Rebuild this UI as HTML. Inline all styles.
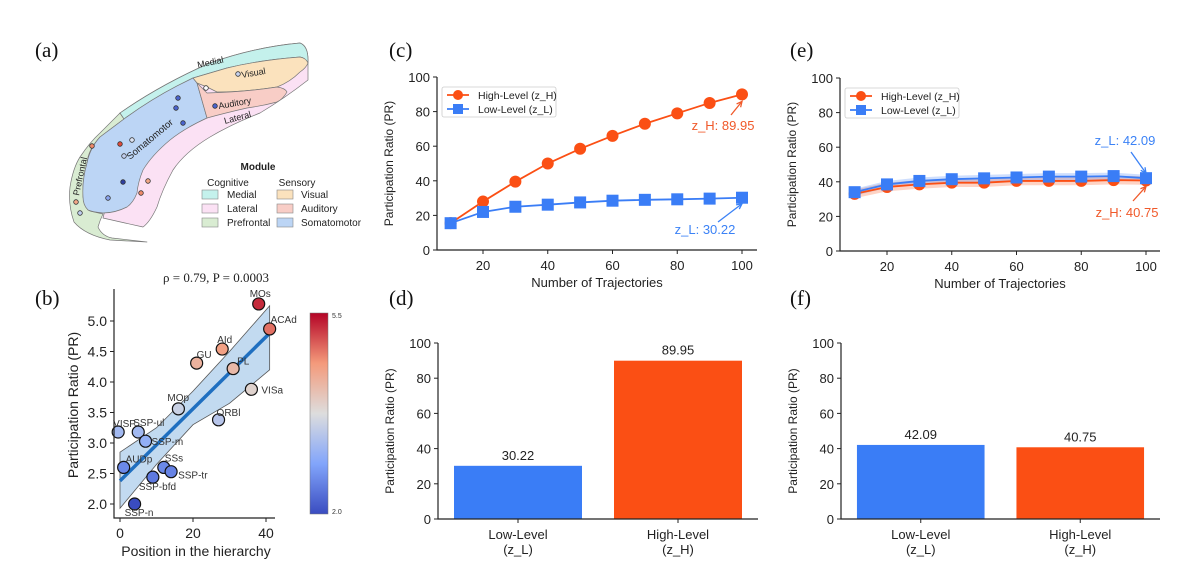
<!DOCTYPE html>
<html><head><meta charset="utf-8"><style>
html,body{margin:0;padding:0;background:#fff;}
svg{display:block;font-family:"Liberation Sans",sans-serif;}
.tk{font-size:13px;fill:#222;}
.pl{font-family:"Liberation Serif",serif;font-size:21px;fill:#111;}
</style></head><body>
<svg id="fig" width="1200" height="578" viewBox="0 0 1200 578">
<text class="pl" x="35" y="57">(a)</text>
<text class="pl" x="35" y="305">(b)</text>
<text class="pl" x="389" y="57">(c)</text>
<text class="pl" x="389" y="305">(d)</text>
<text class="pl" x="790" y="57">(e)</text>
<text class="pl" x="790" y="305">(f)</text>

<!-- Panel a: cortex diagram -->
<g id="pa" stroke="#777" stroke-width="0.7" stroke-linejoin="round">
  <path fill="#fbe1f4" d="M120,113 Q160,85 210,63 Q255,47 300,43 Q308,46 308,60 L308,80 Q285,98 260,113 Q230,125 210,137 Q185,152 173,170 Q162,190 157,207 Q150,222 143,227 L125,223 L103,218 L120,150 Z"/>
  <path fill="#d9ecd2" d="M147,242 L110,240 Q85,235 74,222 Q68,205 70,187 Q73,168 80,157 Q90,142 100,133 L120,113 L124,119 L100,137 Q88,150 87,163 Q82,180 83,197 Q86,208 90,211 L103,214 Q100,220 98,227 Q102,236 112,238 Q130,240 147,242 Z"/>
  <path fill="#c4f1ec" d="M120,113 Q160,85 210,63 Q255,47 300,43 Q308,46 308,60 L308,63 Q305,58 300,57 Q260,60 227,68 L193,78 Q185,82 177,86 Q150,100 124,119 Z"/>
  <path fill="#bcd5f5" d="M124,119 Q150,100 177,86 L193,78 L197,83 L207,118 Q185,128 170,140 Q152,155 143,170 Q138,182 137,193 Q133,203 127,207 Q115,213 103,213 Q92,212 88,210 Q83,205 83,197 Q82,180 87,163 Q90,148 100,137 Z"/>
  <path fill="#fbe2bd" d="M193,78 L227,68 Q260,60 300,57 Q306,58 308,63 Q306,68 300,72 Q290,82 277,87 Q245,92 217,92 L207,87 L197,83 Z"/>
  <path fill="#f8cdc6" d="M197,83 L207,93 Q245,92 277,87 Q285,88 287,92 Q283,99 277,102 Q262,106 247,108 Q225,113 207,118 Z"/>
  <text x="198" y="68" font-size="9" fill="#222" stroke="none" transform="rotate(-12 198 68)">Medial</text>
  <text x="242" y="78" font-size="9" fill="#222" stroke="none" transform="rotate(-10 242 78)">Visual</text>
  <text x="219" y="109" font-size="9" fill="#222" stroke="none" transform="rotate(-10 219 109)">Auditory</text>
  <text x="225" y="124" font-size="9" fill="#222" stroke="none" transform="rotate(-15 225 124)">Lateral</text>
  <text x="130" y="160" font-size="9.5" fill="#222" stroke="none" transform="rotate(-40 130 160)">Somatomotor</text>
  <text x="79" y="196" font-size="9" fill="#222" stroke="none" transform="rotate(-78 79 196)">Prefrontal</text>
  <g stroke="#333" stroke-width="0.8">
    <circle cx="238" cy="74" r="2.3" fill="#c7d3f0"/><circle cx="206" cy="88" r="2.3" fill="#fff"/>
    <circle cx="215" cy="106" r="2.3" fill="#4a64d0"/><circle cx="178" cy="98" r="2.3" fill="#4a64d0"/>
    <circle cx="176" cy="108" r="2.3" fill="#4a64d0"/><circle cx="183" cy="123" r="2.3" fill="#4a64d0"/>
    <circle cx="92" cy="146" r="2.3" fill="#f08a6a"/><circle cx="120" cy="144" r="2.3" fill="#e04a3a"/>
    <circle cx="132" cy="140" r="2.3" fill="#dde4f4"/><circle cx="124" cy="156" r="2.3" fill="#c0cff0"/>
    <circle cx="123" cy="182" r="2.3" fill="#2d3fa0"/><circle cx="108" cy="198" r="2.3" fill="#8aa4f0"/>
    <circle cx="148" cy="181" r="2.3" fill="#f4a888"/><circle cx="141" cy="193" r="2.3" fill="#f08a6a"/>
    <circle cx="76" cy="202" r="2.3" fill="#f4a888"/><circle cx="80" cy="213" r="2.3" fill="#c0cff0"/>
  </g>
</g>
<g id="pa-legend" font-size="10" fill="#222">
  <text x="258" y="170" font-weight="bold" text-anchor="middle">Module</text>
  <text x="228" y="186" text-anchor="middle">Cognitive</text>
  <text x="297" y="186" text-anchor="middle">Sensory</text>
  <rect x="202" y="190" width="16" height="9" fill="#c4f1ec" stroke="#888" stroke-width="0.6"/><text x="227" y="198">Medial</text>
  <rect x="202" y="204" width="16" height="9" fill="#fbe1f4" stroke="#888" stroke-width="0.6"/><text x="227" y="212">Lateral</text>
  <rect x="202" y="218" width="16" height="9" fill="#d9ecd2" stroke="#888" stroke-width="0.6"/><text x="227" y="226">Prefrontal</text>
  <rect x="277" y="190" width="16" height="9" fill="#fbe2bd" stroke="#888" stroke-width="0.6"/><text x="301" y="198">Visual</text>
  <rect x="277" y="204" width="16" height="9" fill="#f8cdc6" stroke="#888" stroke-width="0.6"/><text x="301" y="212">Auditory</text>
  <rect x="277" y="218" width="16" height="9" fill="#bcd5f5" stroke="#888" stroke-width="0.6"/><text x="301" y="226">Somatomotor</text>
</g>

<defs>
<linearGradient id="cw" x1="0" y1="1" x2="0" y2="0">
<stop offset="0" stop-color="#3a4cc0"/><stop offset="0.25" stop-color="#82a5fb"/><stop offset="0.5" stop-color="#dddddd"/><stop offset="0.75" stop-color="#f49a7b"/><stop offset="1" stop-color="#b40426"/>
</linearGradient>
</defs>
<g id="pb"></g>
<g id="pc"></g>
<g id="pd"></g>
<g id="pe"></g>
<g id="pf"></g>
</svg>
<script>
// ---- Data ----
const bNames = ["VISP","SSP-ul","SSP-m","AUDp","SSs","SSP-tr","SSP-bfd","SSP-n","MOp","ORBl","VISa","PL","GU","AId","ACAd","MOs"];
const bX = [-0.5,5,7,1,12,14,9,4,16,27,36,31,21,28,41,38];
const bY = [3.18,3.18,3.03,2.6,2.6,2.53,2.44,2.0,3.56,3.38,3.88,4.22,4.31,4.54,4.87,5.28];
const bFitX = [0,41];
const bFitY = [2.38,4.8];
const bBandX = [0,10,20,30,41];
const bBandHi = [2.85,3.25,3.85,4.5,5.25];
const bBandLo = [1.93,2.65,3.3,3.65,4.2];
const bYTicks = [2.0,2.5,3.0,3.5,4.0,4.5,5.0];
const bXTicks = [0,20,40];

const traj = [10,20,30,40,50,60,70,80,90,100];
const cHigh = [15.5,28,39.5,50,58.5,66,73,79,85,89.95];
const cLow = [15.5,22,25,26.2,27.5,28.5,29,29.3,29.7,30.22];
const eHigh = [33,37,38.5,39.5,39.5,40.5,40.5,40.5,41,40.75];
const eLow = [34,38.5,40.5,41.5,42,42.5,43,43,43.3,42.09];
const eHighErr = [2.5,2.5,2.5,2.5,2.5,2.5,2.5,2.5,2.5,2.5];
const eLowErr = [2,2,2,2,2,2,2,2,2,2];
const lineXTicks = [20,40,60,80,100];
const prTicks = [0,20,40,60,80,100];

const barCats = ["Low-Level|(z_L)","High-Level|(z_H)"];
const dVals = [30.22,89.95];
const fVals = [42.09,40.75];
const dLabels = ["30.22","89.95"];
const fLabels = ["42.09","40.75"];

const ORANGE = "#fb4f14", BLUE = "#3a7df6";
const NS = "http://www.w3.org/2000/svg";
function mk(parent, tag, attrs, text){
  const e = document.createElementNS(NS, tag);
  for (const k in attrs) e.setAttribute(k, attrs[k]);
  if (text !== undefined) e.textContent = text;
  parent.appendChild(e); return e;
}
function lin(d0,d1,r0,r1){ return v => r0 + (v-d0)*(r1-r0)/(d1-d0); }
function coolwarm(t){
  const st=[[0,[58,76,192]],[0.25,[130,165,251]],[0.5,[221,221,221]],[0.75,[244,154,123]],[1,[180,4,38]]];
  t=Math.max(0,Math.min(1,t));
  for(let i=0;i<st.length-1;i++){ if(t<=st[i+1][0]){const a=st[i],b=st[i+1],f=(t-a[0])/(b[0]-a[0]);
    return "rgb("+a[1].map((c,j)=>Math.round(c+(b[1][j]-c)*f)).join(",")+")";}}
  return "rgb(180,4,38)";
}

// ---- Panel b ----
(function(){
  const g = document.getElementById("pb");
  const X = lin(0,40,120,266), Y = lin(2.0,5.0,504,321);
  let pts = bBandX.map((x,i)=>X(x)+","+Y(bBandHi[i]));
  for (let i=bBandX.length-1;i>=0;i--) pts.push(X(bBandX[i])+","+Y(bBandLo[i]));
  const band = mk(g,"polygon",{points:pts.join(" "),fill:"#c2daf0",stroke:"#555","stroke-width":0.8});
  
  
  const fit = mk(g,"line",{x1:X(bFitX[0]),y1:Y(bFitY[0]),x2:X(bFitX[1]),y2:Y(bFitY[1]),stroke:"#1f6fc0","stroke-width":3.5});
  
  
  const off = [[-5,-5],[-5,-6],[6,4],[2,-5],[1,-6],[7,7],[-14,13],[-10,12],[-11,-8],[-2,-4],[10,4],[4,-4],[0,-5],[-5,-6],[1,-6],[-9,-7]];
  bNames.forEach((n,i)=>{
    const cx=X(bX[i]), cy=Y(bY[i]);
    const c = mk(g,"circle",{cx:cx,cy:cy,r:6,fill:coolwarm((bY[i]-2)/3.5),stroke:"#111","stroke-width":1.2});
    
    
    const t = mk(g,"text",{x:cx+off[i][0],y:cy+off[i][1],"font-size":10,fill:"#333"},n);
    
    
  });
  const ax = mk(g,"path",{d:"M114,289 V518 H275",fill:"none",stroke:"#222","stroke-width":1.2});
  
  
  bYTicks.forEach(v=>{
    mk(g,"line",{x1:110,x2:114,y1:Y(v),y2:Y(v),stroke:"#222"});
    const t=mk(g,"text",{x:107,y:Y(v)+5,"text-anchor":"end","font-size":14,fill:"#222"},v.toFixed(1));
    
    
  });
  bXTicks.forEach(v=>{
    mk(g,"line",{x1:X(v),x2:X(v),y1:518,y2:522,stroke:"#222"});
    const t=mk(g,"text",{x:X(v),y:538,"text-anchor":"middle","font-size":14,fill:"#222"},String(v));
    
    
  });
  let t=mk(g,"text",{x:196,y:556,"text-anchor":"middle","font-size":14,fill:"#222"},"Position in the hierarchy");
  
  
  t=mk(g,"text",{x:78,y:405,"text-anchor":"middle","font-size":14,fill:"#222",transform:"rotate(-90 78 405)"},"Participation Ratio (PR)");
  
  
  t=mk(g,"text",{x:216,y:282,"text-anchor":"middle","font-size":13,fill:"#222","font-family":"Liberation Serif, serif"},"ρ = 0.79,  P = 0.0003");
  
  
  const cb = mk(g,"rect",{x:310,y:313,width:18,height:201,fill:"url(#cw)",stroke:"#777","stroke-width":0.5});
  
  
  t=mk(g,"text",{x:332,y:318,"font-size":7,fill:"#333"},"5.5");
  
  
  t=mk(g,"text",{x:332,y:514,"font-size":7,fill:"#333"},"2.0");
  
  
})();

function prAxes(g, L, R, T, B, Y){
  const ax = mk(g,"path",{d:"M"+L+","+T+" V"+B+" H"+R,fill:"none",stroke:"#222","stroke-width":1.2});
  
  
  prTicks.forEach(v=>{
    mk(g,"line",{x1:L-4,x2:L,y1:Y(v),y2:Y(v),stroke:"#222"});
    const t=mk(g,"text",{x:L-7,y:Y(v)+5,"text-anchor":"end",class:"tk"},String(v));
    
    
  });
  const cy=(T+B)/2, tx=L-44;
  const t=mk(g,"text",{x:tx,y:cy,"text-anchor":"middle","font-size":12,fill:"#222",transform:"rotate(-90 "+tx+" "+cy+")"},"Participation Ratio (PR)");
  
  
}

function lineChart(id, L, R, x20, x100, T, B, hi, lo, hiErr, loErr, ann){
  const g=document.getElementById(id);
  const X=lin(20,100,x20,x100), Y=lin(0,100,B,T);
  prAxes(g,L,R,T,B,Y);
  lineXTicks.forEach(v=>{
    mk(g,"line",{x1:X(v),x2:X(v),y1:B,y2:B+4,stroke:"#222"});
    const t=mk(g,"text",{x:X(v),y:B+20,"text-anchor":"middle",class:"tk"},String(v));
    
    
  });
  const xt=mk(g,"text",{x:(L+R)/2,y:B+37,"text-anchor":"middle",class:"tk"},"Number of Trajectories");
  
  
  function band(vals, err, col, name){
    if(!err) return;
    let p=traj.map((x,i)=>X(x)+","+Y(vals[i]+err[i]));
    for(let i=traj.length-1;i>=0;i--) p.push(X(traj[i])+","+Y(vals[i]-err[i]));
    const b=mk(g,"polygon",{points:p.join(" "),fill:col,opacity:0.25});
    
    
  }
  band(hi,hiErr,ORANGE,'high-level-band');
  band(lo,loErr,BLUE,'low-level-band');
  function series(vals,col,sq,name){
    const pl=mk(g,"polyline",{points:traj.map((x,i)=>X(x)+","+Y(vals[i])).join(" "),fill:"none",stroke:col,"stroke-width":1.8});
    
    
    traj.forEach((x,i)=>{
      let m;
      if(sq) m=mk(g,"rect",{x:X(x)-6,y:Y(vals[i])-6,width:12,height:12,fill:col});
      else m=mk(g,"circle",{cx:X(x),cy:Y(vals[i]),r:6,fill:col});
      
      
    });
  }
  series(hi,ORANGE,false,'high-level');
  series(lo,BLUE,true,'low-level');
  const lg=mk(g,"g",{});
  
  
  mk(lg,"rect",{x:L+5,y:T+10,width:114,height:30,fill:"#fff",stroke:"#ccc","stroke-width":0.8,rx:2});
  mk(lg,"line",{x1:L+10,x2:L+32,y1:T+18,y2:T+18,stroke:ORANGE,"stroke-width":1.8});
  mk(lg,"circle",{cx:L+21,cy:T+18,r:5,fill:ORANGE});
  let t=mk(lg,"text",{x:L+41,y:T+22,"font-size":10.5,fill:"#222"},"High-Level (z_H)");
  
  
  mk(lg,"line",{x1:L+10,x2:L+32,y1:T+32,y2:T+32,stroke:BLUE,"stroke-width":1.8});
  mk(lg,"rect",{x:L+16,y:T+27,width:10,height:10,fill:BLUE});
  t=mk(lg,"text",{x:L+41,y:T+36,"font-size":10.5,fill:"#222"},"Low-Level (z_L)");
  
  
  ann.forEach(a=>{
    const tx=mk(g,"text",{x:a.tx,y:a.ty,"text-anchor":"middle","font-size":13,fill:a.col},a.label);
    
    
    const ex=X(100), ey=Y(a.val)+a.dy;
    const ar=mk(g,"line",{x1:a.ax,y1:a.ay,x2:ex,y2:ey,stroke:a.col,"stroke-width":1.3});
    
    
    const ang=Math.atan2(ey-a.ay,ex-a.ax), s=6;
    mk(g,"polyline",{points:(ex-s*Math.cos(ang-0.45))+","+(ey-s*Math.sin(ang-0.45))+" "+ex+","+ey+" "+(ex-s*Math.cos(ang+0.45))+","+(ey-s*Math.sin(ang+0.45)),fill:"none",stroke:a.col,"stroke-width":1.3});
  });
}
lineChart("pc",437,757,483,742,77,250,cHigh,cLow,null,null,[
  {key:'zh',label:"z_H: "+cHigh[9].toFixed(2),val:cHigh[9],tx:723,ty:130,ax:731,ay:115,dy:7,col:"#f0592a"},
  {key:'zl',label:"z_L: "+cLow[9].toFixed(2),val:cLow[9],tx:705,ty:234,ax:718,ay:222,dy:6,col:"#3b82f6"}]);
lineChart("pe",840,1160,887,1146,78,251,eHigh,eLow,eHighErr,eLowErr,[
  {key:'zl',label:"z_L: "+eLow[9].toFixed(2),val:eLow[9],tx:1125,ty:145,ax:1131,ay:152,dy:-5,col:"#3b82f6"},
  {key:'zh',label:"z_H: "+eHigh[9].toFixed(2),val:eHigh[9],tx:1127,ty:217,ax:1133,ay:201,dy:6,col:"#f0592a"}]);

function barChart(id,L,R,T,B,vals,labels){
  const g=document.getElementById(id);
  const Y=lin(0,100,B,T);
  const w=(R-L), bw=w*0.4, cx=[L+w*0.25,L+w*0.75];
  vals.forEach((v,i)=>{
    const r=mk(g,"rect",{x:cx[i]-bw/2,y:Y(v),width:bw,height:B-Y(v),fill:i?ORANGE:BLUE});
    
    
    const t=mk(g,"text",{x:cx[i],y:Y(v)-6,"text-anchor":"middle",class:"tk"},labels[i]);
    
    
    mk(g,"line",{x1:cx[i],x2:cx[i],y1:B,y2:B+4,stroke:"#222"});
    const parts=barCats[i].split("|");
    parts.forEach((p,j)=>{
      const c=mk(g,"text",{x:cx[i],y:B+20+j*15,"text-anchor":"middle",class:"tk"},p);
      
      
    });
  });
  prAxes(g,L,R,T,B,Y);
}
barChart("pd",438,758,343,519,dVals,dLabels);
barChart("pf",841,1160,343,519,fVals,fLabels);
</script>
</body></html>
